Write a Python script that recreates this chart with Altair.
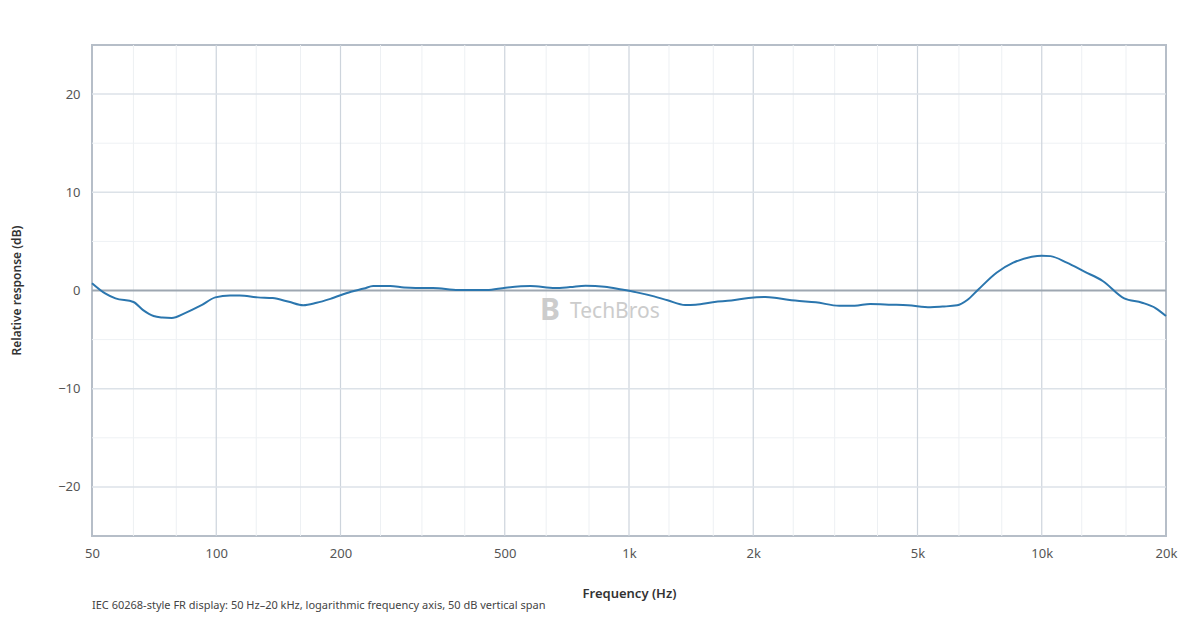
import altair as alt
import pandas as pd

# Frequency response
freq_hz = [50, 53.8, 57, 63, 66.5, 70.5, 74, 78, 84, 91.6, 99.5, 108, 114, 126, 137, 150,
           162.5, 175, 189, 212, 228, 240, 264, 285, 304, 335, 386, 452, 502, 577, 662, 720,
           785, 873, 960, 1044, 1150, 1240, 1368, 1450, 1611, 1770, 1948, 2139, 2300, 2527,
           2835, 3232, 3520, 3841, 4324, 4734, 5372, 5750, 6239, 6600, 7000, 7770, 8528,
           9461, 10000, 10500, 11500, 12690, 14050, 15840, 17500, 18900, 20000]
response_db = [0.75, -0.29, -0.8, -1.17, -2.0, -2.6, -2.75, -2.8, -2.3, -1.55, -0.7, -0.5,
               -0.5, -0.7, -0.77, -1.15, -1.5, -1.25, -0.85, -0.12, 0.2, 0.46, 0.46, 0.3,
               0.25, 0.25, 0.05, 0.05, 0.29, 0.46, 0.25, 0.35, 0.49, 0.39, 0.1, -0.19, -0.6,
               -1.0, -1.48, -1.45, -1.17, -1.03, -0.76, -0.66, -0.8, -1.03, -1.2, -1.55,
               -1.55, -1.37, -1.44, -1.5, -1.71, -1.64, -1.51, -0.97, 0.05, 1.81, 2.83,
               3.44, 3.55, 3.5, 2.83, 1.92, 0.97, -0.8, -1.24, -1.81, -2.6]

major_x = [50, 100, 200, 500, 1000, 2000, 5000, 10000, 20000]
minor_x = [63, 80, 125, 160, 250, 315, 400, 630, 800, 1250, 1600, 2500, 3150, 4000,
           6300, 8000, 12500, 16000]
major_y = [-20, -10, 10, 20]
minor_y = [-15, -5, 5, 15]

caption = "IEC 60268-style FR display: 50 Hz\u201320 kHz, logarithmic frequency axis, 50 dB vertical span"
watermark = "TechBros"

FONT = "Noto Sans"

df = pd.DataFrame({"f": freq_hz, "db": response_db})

xscale = alt.Scale(type="log", domain=[50, 20000], nice=False)
yscale = alt.Scale(domain=[-25, 25], nice=False)

minor_x_rules = alt.Chart(pd.DataFrame({"f": minor_x})).mark_rule(
    color="#edf0f3", strokeWidth=1
).encode(x=alt.X("f:Q", scale=xscale))

minor_y_rules = alt.Chart(pd.DataFrame({"db": minor_y})).mark_rule(
    color="#eef1f4", strokeWidth=1
).encode(y=alt.Y("db:Q", scale=yscale))

major_x_rules = alt.Chart(pd.DataFrame({"f": major_x[1:-1]})).mark_rule(
    color="#cdd4dc", strokeWidth=1.2
).encode(x=alt.X("f:Q", scale=xscale))

major_y_rules = alt.Chart(pd.DataFrame({"db": major_y})).mark_rule(
    color="#dce2e8", strokeWidth=1.5
).encode(y=alt.Y("db:Q", scale=yscale))

zero_rule = alt.Chart(pd.DataFrame({"db": [0]})).mark_rule(
    color="#9ea7b1", strokeWidth=2
).encode(y=alt.Y("db:Q", scale=yscale))

line = alt.Chart(df).mark_line(
    color="#2b76ae", strokeWidth=2, interpolate="monotone"
).encode(
    x=alt.X(
        "f:Q",
        scale=xscale,
        axis=alt.Axis(
            values=major_x,
            labelExpr="datum.value >= 1000 ? (datum.value / 1000) + 'k' : datum.value",
            grid=False,
            domain=False,
            ticks=False,
            labelPadding=11,
            labelFontSize=13,
            labelColor="#555555",
            labelFont=FONT,
            title="Frequency (Hz)",
            titleFont=FONT,
            titleFontSize=13,
            titleFontWeight=600,
            titleColor="#333333",
            titleBaseline="middle",
            titleY=57,
            labelFlush=False,
        ),
    ),
    y=alt.Y(
        "db:Q",
        scale=yscale,
        axis=alt.Axis(
            values=[-20, -10, 0, 10, 20],
            grid=False,
            domain=False,
            ticks=False,
            labelPadding=12,
            labelFontSize=13,
            labelColor="#555555",
            labelFont=FONT,
            title="Relative response (dB)",
            titleFont=FONT,
            titleFontSize=12,
            titleFontWeight=600,
            titleColor="#333333",
            titleX=-69,
            titleY=245,
        ),
    ),
)

wm_logo = alt.Chart(pd.DataFrame({"t": ["B"]})).mark_text(
    font=FONT, fontSize=30, fontWeight="bold", color="#cccccc", align="center", baseline="middle"
).encode(x=alt.value(458), y=alt.value(266), text="t:N")

wm_text = alt.Chart(pd.DataFrame({"t": [watermark]})).mark_text(
    font=FONT, fontSize=21, color="#cccccc", align="left", baseline="middle"
).encode(x=alt.value(478), y=alt.value(267), text="t:N")

cap = alt.Chart(pd.DataFrame({"t": [caption]})).mark_text(
    font=FONT, fontSize=11, color="#444444", align="left", baseline="middle"
).encode(x=alt.value(0), y=alt.value(561), text="t:N")

chart = alt.layer(
    minor_x_rules, minor_y_rules, major_x_rules, major_y_rules, zero_rule,
    wm_logo, wm_text, line, cap
).properties(
    width=1074,
    height=491,
    autosize=alt.AutoSizeParams(type="none"),
    padding={"left": 84, "top": 37, "right": 26, "bottom": 76},
    background="#ffffff",
).configure_view(
    stroke="#b6bec8", strokeWidth=2
)

chart.save("out.html", embed_options={"renderer": "svg", "actions": False})
